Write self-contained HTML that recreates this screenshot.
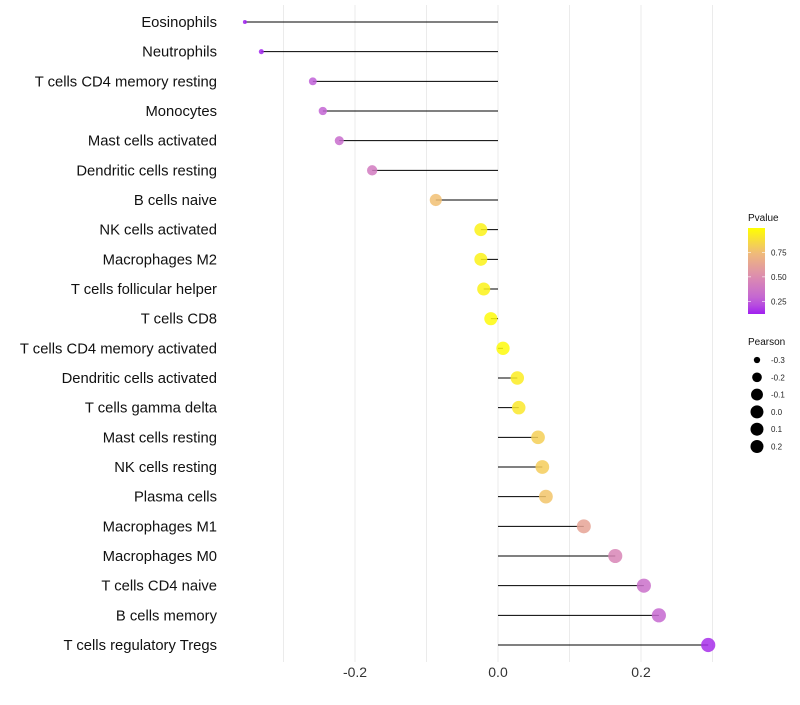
<!DOCTYPE html>
<html><head><meta charset="utf-8"><style>
body{margin:0;background:#fff;font-family:"Liberation Sans",sans-serif}
</style></head><body>
<svg id="chart" width="800" height="700" xmlns="http://www.w3.org/2000/svg" font-family="Liberation Sans, sans-serif">
<g id="grid"></g><g id="marks"></g><g id="labels"></g><g id="legend"></g>
</svg>
<script>
const categories=["Eosinophils","Neutrophils","T cells CD4 memory resting","Monocytes","Mast cells activated","Dendritic cells resting","B cells naive","NK cells activated","Macrophages M2","T cells follicular helper","T cells CD8","T cells CD4 memory activated","Dendritic cells activated","T cells gamma delta","Mast cells resting","NK cells resting","Plasma cells","Macrophages M1","Macrophages M0","T cells CD4 naive","B cells memory","T cells regulatory  Tregs"];
const pearson=[-0.354,-0.331,-0.259,-0.245,-0.222,-0.176,-0.087,-0.024,-0.024,-0.020,-0.010,0.007,0.027,0.029,0.056,0.062,0.067,0.120,0.164,0.204,0.225,0.294];
const pvalues=[0.10,0.13,0.25,0.28,0.32,0.40,0.76,0.95,0.95,0.95,0.98,0.98,0.93,0.91,0.82,0.81,0.78,0.62,0.46,0.34,0.30,0.15];
const xTicks=[-0.2,0.0,0.2];
const gridVals=[-0.3,-0.2,-0.1,0.0,0.1,0.2,0.3];
const colorTicks=[0.25,0.5,0.75];
const sizeTicks=[-0.3,-0.2,-0.1,0.0,0.1,0.2];

const NS="http://www.w3.org/2000/svg";
const x=v=>498+v*715;
const y=i=>22+i*(623/21);
const r=v=>{const t=Math.max(0,Math.min(1,(0.294-v)/0.648));return 7.1-5.1*Math.pow(t,3);};
const stops=[[0.12,[160,32,240]],[0.25,[192,96,216]],[0.5,[220,140,176]],[0.75,[240,188,120]],[1.0,[255,255,0]]];
function col(p){p=Math.max(0.12,Math.min(1,p));for(let k=0;k<stops.length-1;k++){const[a,ca]=stops[k],[b,cb]=stops[k+1];if(p<=b){const t=(p-a)/(b-a);return`rgb(${ca.map((c,j)=>Math.round(c+(cb[j]-c)*t)).join(",")})`;}}return"rgb(255,255,0)";}
function mk(tag,at,parent,txt){const e=document.createElementNS(NS,tag);for(const k in at)e.setAttribute(k,at[k]);if(txt!=null)e.textContent=txt;parent.appendChild(e);return e;}
const G=document.getElementById("grid"),M=document.getElementById("marks"),L=document.getElementById("labels"),LG=document.getElementById("legend");
gridVals.forEach(v=>{const l=mk("line",{x1:x(v),x2:x(v),y1:5,y2:662,stroke:"#ebebeb","stroke-width":1},G);

});
xTicks.forEach(v=>{const t=mk("text",{x:x(v),y:677,"text-anchor":"middle","font-size":14,fill:"#333"},L,v===0?"0.0":v.toFixed(1));

});
categories.forEach((c,i)=>{
const t=mk("text",{x:217,y:y(i)+5,"text-anchor":"end","font-size":14.8,fill:"#111"},L,c);


const s=mk("line",{x1:x(0),x2:x(pearson[i]),y1:y(i),y2:y(i),stroke:"#000","stroke-width":1},M);


const d=mk("circle",{cx:x(pearson[i]),cy:y(i),r:r(pearson[i]),fill:col(pvalues[i]),"fill-opacity":0.85},M);


});
const defs=mk("defs",{},LG);const gr=mk("linearGradient",{id:"pg",x1:0,y1:1,x2:0,y2:0},defs);
for(let k=0;k<=10;k++){const p=0.12+k*0.088;mk("stop",{offset:k/10,"stop-color":col(p)},gr);}
const tt=mk("text",{x:748,y:221,"font-size":10,fill:"#111"},LG,"Pvalue");


const bar=mk("rect",{x:748,y:228,width:17,height:86,fill:"url(#pg)"},LG);


const cy=p=>314-(p-0.12)/0.88*86;
colorTicks.forEach(p=>{mk("line",{x1:748,x2:751,y1:cy(p),y2:cy(p),stroke:"#fff","stroke-width":0.6},LG);mk("line",{x1:762,x2:765,y1:cy(p),y2:cy(p),stroke:"#fff","stroke-width":0.6},LG);
const t=mk("text",{x:771,y:cy(p)+3,"font-size":8,fill:"#222"},LG,p.toFixed(2));

});
const st=mk("text",{x:748,y:345,"font-size":10,fill:"#111"},LG,"Pearson");


sizeTicks.forEach((v,k)=>{const yy=360+k*17.3;
const c=mk("circle",{cx:757,cy:yy,r:Math.min(6.5,r(v)),fill:"#000"},LG);


const t=mk("text",{x:771,y:yy+3,"font-size":8,fill:"#222"},LG,v.toFixed(1));

});
</script>
</body></html>
